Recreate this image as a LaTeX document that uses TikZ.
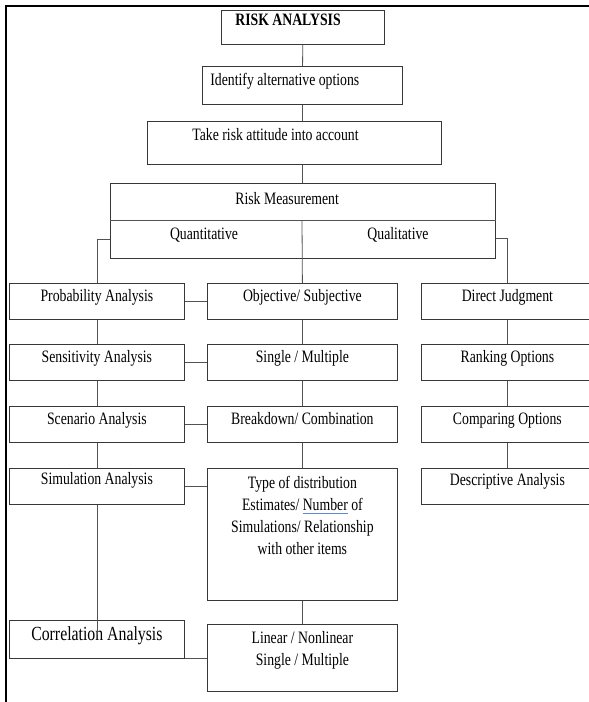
\documentclass[tikz,border=0pt]{standalone}
\usepackage{fontspec}
\setmainfont{Liberation Serif}[FakeStretch=0.79]
\usepackage{xcolor}
\definecolor{spellblue}{RGB}{95,135,215}
\newcommand\chartfont{\fontsize{17.4}{22}\selectfont}
\newlength\spellwd
\newcommand\spellmark[1]{\settowidth{\spellwd}{#1}\rlap{\textcolor{spellblue}{\rule[-3pt]{\spellwd}{0.9pt}}}#1}
\tikzset{
  blk/.style={draw=black!78, line width=0.8pt, anchor=north west, inner xsep=0pt, inner ysep=0pt, align=flush center, font=\chartfont},
  cell/.style n args={3}{text width=#1pt, text height=#2pt, text depth=#3pt},
  lnk/.style={draw=black!68, line width=0.8pt}
}

\begin{document}
\begin{tikzpicture}[x=1pt,y=-1pt]
  \useasboundingbox (0,0) rectangle (589,702);
  \clip (0,0) rectangle (589,702);
  % frame
  \draw[line width=2.2pt] (589,6) -- (6,6) -- (6,702);

  % top chain
  \node[blk, align=flush left, inner xsep=14pt, cell={135}{15.5}{18.5}] (risk) at (221,10) {\textbf{RISK ANALYSIS}};
  \node[blk, align=flush left, inner xsep=8pt, cell={184}{19.5}{18.5}] (idf) at (202,66) {Identify alternative options};
  \node[blk, align=flush left, inner xsep=45pt, cell={204}{19.5}{23.5}] (take) at (147,121) {Take risk attitude into account};
  \node[blk, align=flush left, inner xsep=125pt, cell={135}{21.5}{53.5}] (rm) at (110,183) {Risk Measurement};
  \node[font=\chartfont] (quan) at (204,235) {Quantitative};
  \node[font=\chartfont] (qual) at (398,235) {Qualitative};
  \coordinate (split) at (302,220);

  % quantitative
  \node[blk, cell={175}{18.5}{17.5}] (prob) at (9,283) {Probability Analysis};
  \node[blk, cell={175}{18.5}{17.5}] (sens) at (9,344) {Sensitivity Analysis};
  \node[blk, cell={175}{18.5}{17.5}] (scen) at (9,406) {Scenario Analysis};
  \node[blk, cell={175}{16}{20}] (sim) at (9,468) {Simulation Analysis};
  \node[blk, cell={175}{20.5}{17.5}, font=\fontsize{20}{22}\selectfont] (corr) at (9,620) {Correlation Analysis};

  \node[blk, cell={190}{18.5}{17.5}] (obj) at (207,283) {Objective/ Subjective};
  \node[blk, cell={190}{18.5}{17.5}] (sing) at (207,344) {Single / Multiple};
  \node[blk, cell={190}{18.5}{17.5}] (brk) at (207,406) {Breakdown/ Combination};
  \node[blk, cell={190}{20.5}{111.5}] (type) at (207,468) {Type of distribution\\Estimates/ \spellmark{Number} of\\Simulations/ Relationship\\with other items};
  \node[blk, cell={190}{19.5}{47}] (lin) at (207,624) {Linear / Nonlinear\\Single / Multiple};

  % qualitative
  \node[blk, cell={172}{18.5}{17.5}] (dj) at (421,283) {Direct Judgment};
  \node[blk, cell={172}{18.5}{17.5}] (rank) at (421,344) {Ranking Options};
  \node[blk, cell={172}{18.5}{17.5}] (comp) at (421,406) {Comparing Options};
  \node[blk, cell={172}{17}{19}] (desc) at (421,468) {Descriptive Analysis};

  % links
  \draw[lnk] (risk) -- (idf);
  \draw[lnk] (idf.south) -- (take.north -| idf.south);
  \draw[lnk] (take.south -| idf.south) -- (rm.north -| idf.south);
  \draw[lnk] (rm.west |- split) -- (rm.east |- split);
  \draw[lnk] (split) -- (obj.north);
  \draw[lnk] (rm.west |- 0,239) -| (prob.north);
  \draw[lnk] (rm.east |- 0,238) -| (dj.north);

  \draw[lnk] (prob) -- (sens);
  \draw[lnk] (sens) -- (scen);
  \draw[lnk] (scen) -- (sim);
  \draw[lnk] (sim.south) -- ([yshift=4pt]corr.center);
  \draw[lnk] (obj) -- (sing);
  \draw[lnk] (sing) -- (brk);
  \draw[lnk] (brk) -- (type);
  \draw[lnk] (type) -- (lin);
  \draw[lnk] (dj) -- (rank);
  \draw[lnk] (rank) -- (comp);
  \draw[lnk] (comp) -- (desc);

  \draw[lnk] (prob) -- (obj);
  \draw[lnk] (sens) -- (sing);
  \draw[lnk] (scen) -- (brk);
  \draw[lnk] (sim.east) -- (type.west |- sim.east);
  \draw[lnk] (corr.south east) -- (corr.south east -| lin.west);
\end{tikzpicture}
\end{document}
